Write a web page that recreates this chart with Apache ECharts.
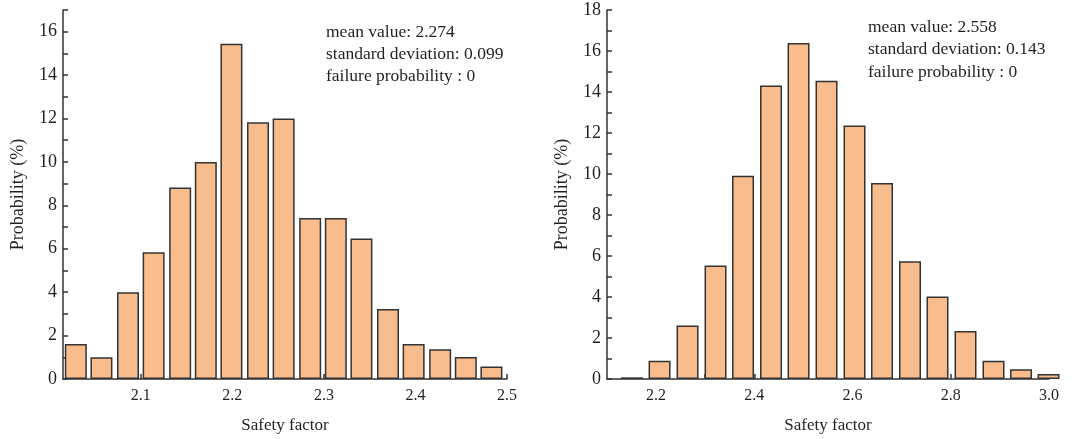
<!DOCTYPE html>
<html>
<head>
<meta charset="utf-8">
<script src="https://cdn.jsdelivr.net/npm/echarts@6/dist/echarts.min.js"></script>
<style>
html, body { margin: 0; padding: 0; background: #fff; }
#main { width: 1083px; height: 439px; }
</style>
</head>
<body>
<div id="main"></div>
<script>
// left histogram: bin centers and probability (%)
var leftBins = [2.029, 2.057, 2.086, 2.114, 2.143, 2.171, 2.199, 2.228, 2.256,
                2.285, 2.313, 2.341, 2.370, 2.398, 2.427, 2.455, 2.483];
var leftProb = [1.61, 1.0, 4.0, 5.84, 8.82, 10.0, 15.45, 11.83, 12.0,
                7.42, 7.42, 6.47, 3.23, 1.61, 1.37, 1.01, 0.58];
var leftXTicks = [2.05, 2.1, 2.15, 2.2, 2.25, 2.3, 2.35, 2.4, 2.45, 2.5];
var leftXLabels = [2.1, 2.2, 2.3, 2.4, 2.5];
var leftStats = 'mean value: 2.274\nstandard deviation: 0.099\nfailure probability : 0';

// right histogram
var rightBins = [2.151, 2.207, 2.264, 2.321, 2.377, 2.434, 2.490, 2.547,
                 2.604, 2.660, 2.717, 2.773, 2.830, 2.887, 2.943, 2.999];
var rightProb = [0.08, 0.89, 2.61, 5.54, 9.92, 14.32, 16.39, 14.55,
                 12.36, 9.56, 5.75, 4.03, 2.34, 0.89, 0.47, 0.24];
var rightXTicks = [2.2, 2.3, 2.4, 2.5, 2.6, 2.7, 2.8, 2.9, 3.0];
var rightXLabels = [2.2, 2.4, 2.6, 2.8, 3.0];
var rightStats = 'mean value: 2.558\nstandard deviation: 0.143\nfailure probability : 0';

var font = 'Liberation Serif';
var ink = '#231f20';

function pairs(xs, ys) {
    return xs.map(function (x, i) { return [x, ys[i]]; });
}

function xAxisOf(idx, min, max, ticks, labels) {
    return {
        type: 'value',
        gridIndex: idx,
        min: min,
        max: max,
        name: 'Safety factor',
        nameLocation: 'middle',
        nameGap: 38,
        nameTextStyle: { fontFamily: font, fontSize: 17, color: ink },
        axisLine: { lineStyle: { color: '#333', width: 1.5 } },
        axisTick: { show: true, inside: true, length: 5, customValues: ticks, lineStyle: { color: '#333', width: 1.5 } },
        axisLabel: {
            customValues: labels,
            margin: 9,
            fontFamily: font, fontSize: 16, color: ink,
            formatter: function (v) { return v.toFixed(1); }
        },
        splitLine: { show: false }
    };
}

function yAxisOf(idx, max) {
    return {
        type: 'value',
        gridIndex: idx,
        min: 0,
        max: max,
        interval: 1,
        name: 'Probability (%)',
        nameLocation: 'middle',
        nameGap: 36,
        nameTextStyle: { fontFamily: font, fontSize: 18, color: ink },
        axisLine: { show: true, lineStyle: { color: '#333', width: 1.5 } },
        axisTick: { show: true, inside: true, length: 5, lineStyle: { color: '#333', width: 1.5 } },
        axisLabel: {
            margin: 6, fontFamily: font, fontSize: 18, color: ink,
            formatter: function (v) { return v % 2 === 0 ? String(v) : ''; }
        },
        splitLine: { show: false }
    };
}

function barSeries(idx, data, width) {
    return {
        type: 'bar',
        xAxisIndex: idx,
        yAxisIndex: idx,
        barWidth: width,
        clip: true,
        z: 1,
        itemStyle: { color: '#f9bc8c', borderColor: '#333', borderWidth: 1.5 },
        data: data
    };
}

var myChart = echarts.init(document.getElementById('main'));
var option = {
    animation: false,
    title: [
        {
            text: leftStats, left: 326, top: 21, padding: 0,
            textStyle: { fontFamily: font, fontSize: 17.5, fontWeight: 'normal', color: ink, lineHeight: 22 }
        },
        {
            text: rightStats, left: 868, top: 16, padding: 0,
            textStyle: { fontFamily: font, fontSize: 17.5, fontWeight: 'normal', color: ink, lineHeight: 22.5 }
        }
    ],
    grid: [
        { left: 63, top: 10, width: 444, height: 370 },
        { left: 607, top: 10, width: 442, height: 370 }
    ],
    xAxis: [
        xAxisOf(0, 2.015, 2.5, leftXTicks, leftXLabels),
        xAxisOf(1, 2.1, 3.0, rightXTicks, rightXLabels)
    ],
    yAxis: [
        yAxisOf(0, 17),
        yAxisOf(1, 18)
    ],
    series: [
        barSeries(0, pairs(leftBins, leftProb), 22),
        barSeries(1, pairs(rightBins, rightProb), 22)
    ]
};
myChart.setOption(option);
</script>
</body>
</html>
